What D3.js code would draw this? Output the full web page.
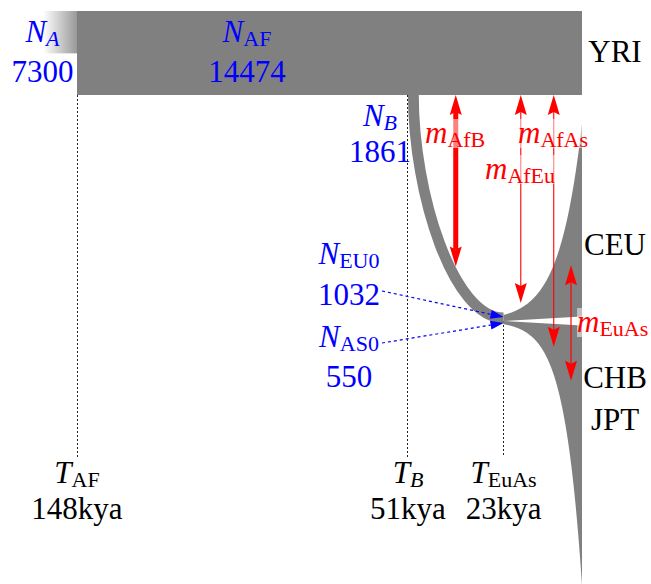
<!DOCTYPE html>
<html>
<head>
<meta charset="utf-8">
<script src="https://cdn.jsdelivr.net/npm/d3@7"></script>
<style>
  html, body { margin: 0; padding: 0; background: #fff; }
  svg { display: block; }
  text { font-family: 'Liberation Serif', 'Times New Roman', Times, serif; }
</style>
</head>
<body>
<svg id="chart" width="651" height="584"></svg>
<script>
// Out-of-Africa demographic model: effective sizes, split times, growth and migration
const sizeKeys   = ["A", "AF", "B", "EU0", "AS0"];
const sizeValues = [7300, 14474, 1861, 1032, 550];

const eventKeys  = ["AF", "B", "EuAs"];
const eventTimes = [148, 51, 23];               // thousand years ago

const growthKeys  = ["EU", "AS"];
const growthRates = [0.0038, 0.0048];           // per generation
const generationYears = 25;

const migrationKeys  = ["AfB", "AfEu", "AfAs", "EuAs"];
const migrationRates = [15.8, 1.1, 0.48, 4.19]; // x 10^-5 per generation

const populationLabels = ["YRI", "CEU", "CHB", "JPT"];

// ---------------------------------------------------------------
const GRAY = "#808080", RED = "#ff0000", BLUE = "#0000ff";
const svg = d3.select("#chart");

const N  = Object.fromEntries(sizeKeys.map((k, i) => [k, sizeValues[i]]));
const T  = Object.fromEntries(eventKeys.map((k, i) => [k, eventTimes[i]]));
const R  = Object.fromEntries(growthKeys.map((k, i) => [k, growthRates[i]]));
const M  = Object.fromEntries(migrationKeys.map((k, i) => [k, migrationRates[i]]));

// time runs left (past) to right (present); sizes map to pixel thickness
const x = d3.scaleLinear().domain([T.AF, 0]).range([77, 582]);
const h = d3.scaleLinear().domain([0, N.AF]).range([0, 84]);

const yTop = 11;
const yAF = yTop + h(N.AF);
const ySplit = 321;
const xAF = x(T.AF), xB = x(T.B), xSplit = x(T.EuAs), xNow = x(0);

const gensPerKy = 1000 / generationYears;
const grow = (n0, r, t) => n0 * Math.exp(r * (T.EuAs - t) * gensPerKy);
const sizeEU = t => grow(N.EU0, R.EU, t);
const sizeAS = t => grow(N.AS0, R.AS, t);

// ---------------------------------------------------------------
// dashed epoch lines
const guides = svg.append("g")
  .attr("stroke", "#222").attr("stroke-width", 1).attr("stroke-dasharray", "2,2");
[[xAF, yAF], [xB - 0.5, yAF], [xSplit, ySplit]].forEach(([gx, gy]) => {
  const px = Math.round(gx - 0.5) + 0.5;
  guides.append("line").attr("x1", px).attr("x2", px).attr("y1", gy).attr("y2", 457);
});

// ancestral population fading into the past
const defs = svg.append("defs");
const grad = defs.append("linearGradient").attr("id", "ancestral")
  .attr("x1", 0).attr("x2", 1).attr("y1", 0).attr("y2", 0);
grad.append("stop").attr("offset", 0).attr("stop-color", "#ffffff");
grad.append("stop").attr("offset", 1).attr("stop-color", "#999999");

svg.append("rect")
  .attr("x", xAF - 34).attr("y", yTop)
  .attr("width", 34).attr("height", h(N.A))
  .attr("fill", "url(#ancestral)");

// African population (YRI)
svg.append("rect")
  .attr("x", xAF).attr("y", yTop)
  .attr("width", xNow - xAF).attr("height", h(N.AF))
  .attr("fill", GRAY);

// bottleneck population B hanging from YRI down to the Eurasian split
const bw = h(N.B);
const bp = d3.path();
const bx0 = xB + bw / 2, by0 = yAF - 0.5;
const bx1 = xSplit, by1 = ySplit - 3;
bp.moveTo(bx0, by0);
bp.bezierCurveTo(bx0, by0 + 100, bx1 - 50, by1, bx1, by1);
const band = svg.append("path")
  .attr("d", bp.toString())
  .attr("fill", "none").attr("stroke", GRAY).attr("stroke-width", bw);

// exponentially growing CEU (up) and CHB/JPT (down)
const tSamples = d3.range(0, 241).map(i => T.EuAs * (1 - i / 240));
svg.append("path")
  .attr("d", d3.area().x(t => x(t)).y0(ySplit).y1(t => ySplit - h(sizeEU(t)))(tSamples))
  .attr("fill", GRAY);
svg.append("path")
  .attr("d", d3.area().x(t => x(t)).y0(ySplit).y1(t => ySplit + h(sizeAS(t)))(tSamples))
  .attr("fill", GRAY);

// gap separating the two Eurasian branches
svg.append("path")
  .attr("d", `M${xSplit},${ySplit}L${xNow},${ySplit - 4.5}L${xNow},${ySplit + 4.5}Z`)
  .attr("fill", "#fff");

// ---------------------------------------------------------------
// migration arrows
const bandNode = band.node();
const bandLen = bandNode.getTotalLength();
function bandUpperEdge(xa) {
  let best = null;
  for (let s = 0; s <= bandLen; s += 0.5) {
    const p = bandNode.getPointAtLength(s);
    if (!best || Math.abs(p.x - xa) < Math.abs(best.p.x - xa)) best = { p, s };
  }
  const a = bandNode.getPointAtLength(Math.max(0, best.s - 1));
  const b = bandNode.getPointAtLength(Math.min(bandLen, best.s + 1));
  const dx = b.x - a.x, dy = b.y - a.y;
  const off = (bw / 2) * Math.hypot(dx, dy) / Math.max(Math.abs(dx), 1e-3);
  return best.p.y - off;
}

const widthOf = d3.scalePow().exponent(3).domain([0, d3.max(migrationRates)]).range([1.1, 5]);
const xInEurasia = f => xSplit + f * (xNow - xSplit);

const arrows = [
  { key: "AfB",  x: xB + 0.5 * (xSplit - xB) },
  { key: "AfEu", x: xInEurasia(0.22) },
  { key: "AfAs", x: xInEurasia(0.64) },
  { key: "EuAs", x: xInEurasia(0.86) }
];
arrows.forEach(a => {
  const t = x.invert(a.x);
  if (a.key === "AfB")  { a.y1 = yAF; a.y2 = bandUpperEdge(a.x) - 1; }
  if (a.key === "AfEu") { a.y1 = yAF; a.y2 = ySplit - h(sizeEU(t)) - 5; }
  if (a.key === "AfAs") { a.y1 = yAF; a.y2 = ySplit + 0.48 * h(sizeAS(t)); }
  if (a.key === "EuAs") { a.y1 = ySplit - 0.46 * h(sizeEU(t)); a.y2 = ySplit + 0.42 * h(sizeAS(t)); }
  a.w = widthOf(M[a.key]);
});

function headPath(xa, yTip, dir, L, W, notch) {
  const yb = yTip - dir * L;
  return `M${xa},${yTip}L${xa - W},${yb}L${xa},${yb + dir * notch}L${xa + W},${yb}Z`;
}

const ga = svg.append("g");
arrows.forEach(a => {
  const L = 20, W = 6, notch = 3;
  ga.append("line")
    .attr("x1", a.x).attr("x2", a.x)
    .attr("y1", a.y1 + L - notch).attr("y2", a.y2 - L + notch)
    .attr("stroke", RED).attr("stroke-width", a.w);
  ga.append("path").attr("d", headPath(a.x, a.y1, -1, L, W, notch)).attr("fill", RED);
  ga.append("path").attr("d", headPath(a.x, a.y2, 1, L, W, notch)).attr("fill", RED);
});

// ---------------------------------------------------------------
// text helpers
function rich(g, xPos, yPos, parts, fill, anchor) {
  const t = g.append("text")
    .attr("x", xPos).attr("y", yPos)
    .attr("text-anchor", anchor || "middle")
    .attr("fill", fill)
    .style("font-size", "31px");
  parts.forEach(p => {
    const s = t.append("tspan").text(p.t);
    if (p.i) s.style("font-style", "italic");
    if (p.sub) s.style("font-size", "22px").attr("dy", 4);
  });
  return t;
}

const labels = svg.append("g");

// migration labels with a translucent backing
const boxes = labels.append("g");
const migLabels = [
  { key: "AfB",  x: 425, y: 143 },
  { key: "AfEu", x: 485, y: 179 },
  { key: "AfAs", x: 518, y: 143 },
  { key: "EuAs", x: 577, y: 332 }
];
migLabels.forEach(m => {
  const t = rich(labels, m.x, m.y, [{ t: "m", i: true }, { t: m.key, sub: true }], RED, "start");
  const bb = t.node().getBBox();
  boxes.append("rect")
    .attr("x", bb.x).attr("y", m.y - 24)
    .attr("width", bb.width).attr("height", 29)
    .attr("fill", "#fff").attr("fill-opacity", 0.5);
});

// effective population sizes
const sizeLabels = [
  { x: 42.5, y: 42,  parts: [{ t: "N", i: true }, { t: "A", i: true, sub: true }], value: N.A,   vy: 82 },
  { x: 247,  y: 42,  parts: [{ t: "N", i: true }, { t: "AF", sub: true }],         value: N.AF,  vy: 82 },
  { x: 380,  y: 126, parts: [{ t: "N", i: true }, { t: "B", i: true, sub: true }], value: N.B,   vy: 162 },
  { x: 349,  y: 264, parts: [{ t: "N", i: true }, { t: "EU0", sub: true }],        value: N.EU0, vy: 305 },
  { x: 349,  y: 347, parts: [{ t: "N", i: true }, { t: "AS0", sub: true }],        value: N.AS0, vy: 387 }
];
sizeLabels.forEach(s => {
  rich(labels, s.x, s.y, s.parts, BLUE);
  rich(labels, s.x, s.vy, [{ t: String(s.value) }], BLUE);
});

// founding-size pointers into the split
const gb = svg.append("g");
[[382, 291, ySplit - 4], [382, 343, ySplit + 2]].forEach(([sx, sy, ty]) => {
  const tx = xSplit;
  const ang = Math.atan2(ty - sy, tx - sx);
  const L = 13, W = 4.5;
  const bxh = tx - L * Math.cos(ang), byh = ty - L * Math.sin(ang);
  gb.append("line")
    .attr("x1", sx).attr("y1", sy).attr("x2", bxh).attr("y2", byh)
    .attr("stroke", BLUE).attr("stroke-width", 1.2).attr("stroke-dasharray", "3,3");
  const nx = -Math.sin(ang), ny = Math.cos(ang);
  gb.append("path")
    .attr("d", `M${tx},${ty}L${bxh + nx * W},${byh + ny * W}L${bxh},${byh}L${bxh - nx * W},${byh - ny * W}Z`)
    .attr("fill", BLUE);
});

// epoch times
const timeLabels = [
  { key: "AF",   parts: [{ t: "T", i: true }, { t: "AF", sub: true }] },
  { key: "B",    parts: [{ t: "T", i: true }, { t: "B", i: true, sub: true }] },
  { key: "EuAs", parts: [{ t: "T", i: true }, { t: "EuAs", sub: true }] }
];
timeLabels.forEach(d => {
  const cx = x(T[d.key]);
  rich(labels, cx, 483, d.parts, "#000");
  rich(labels, cx, 519, [{ t: T[d.key] + "kya" }], "#000");
});

// population names
const popY = [62, 255, 388, 430];
populationLabels.forEach((p, i) => {
  rich(labels, 615, popY[i], [{ t: p }], "#000");
});
</script>
</body>
</html>
